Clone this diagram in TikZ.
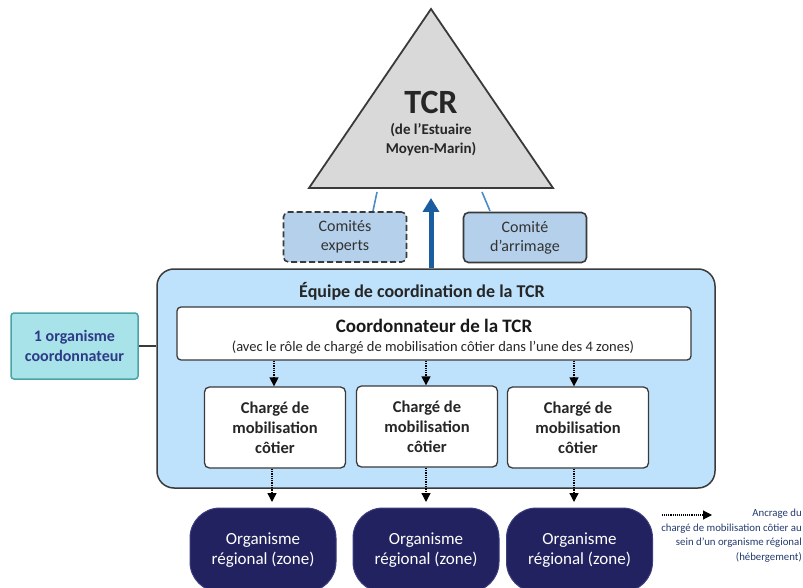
\documentclass[tikz,border=0pt]{standalone}
\usepackage{fontspec}
\setmainfont{Carlito}
\usetikzlibrary{arrows.meta}
\definecolor{trifill}{HTML}{D9D9D9}
\definecolor{darkline}{HTML}{3A3A3A}
\definecolor{comfill}{HTML}{B4D0EA}
\definecolor{teamfill}{HTML}{BEE2FB}
\definecolor{orgfill}{HTML}{222260}
\definecolor{orgline}{HTML}{3C3C7E}
\definecolor{leftfill}{HTML}{A7E3E9}
\definecolor{leftline}{HTML}{4AA3A6}
\definecolor{lefttext}{HTML}{2E3A87}
\definecolor{thinblue}{HTML}{4A8CC8}
\definecolor{bigblue}{HTML}{1B5EA0}
\definecolor{legtext}{HTML}{233A6E}
\tikzset{
  combox/.style={draw=darkline, line width=1.6pt, fill=comfill, rounded corners=5pt,
     minimum width=123pt, minimum height=50pt, align=center, font=\fontsize{16}{19}\selectfont, text=black!80, inner sep=0pt},
  chbox/.style={draw=darkline, line width=1.3pt, fill=white, rounded corners=5pt,
     minimum width=141pt, minimum height=81pt, align=center, font=\bfseries\fontsize{16.5}{20}\selectfont, text=black!85, inner sep=0pt},
  orgbox/.style={draw=orgline, line width=1pt, fill=orgfill, rounded corners=30pt,
     minimum width=146pt, minimum height=84pt, align=center, font=\fontsize{17}{20}\selectfont, text=white, inner sep=0pt},
  dotarrow/.style={densely dotted, line width=1.3pt, -{Triangle[width=9pt,length=9pt]}},
}
\begin{document}
\begin{tikzpicture}[x=1pt,y=-1pt]
\useasboundingbox (0,0) rectangle (803,588);
% triangle
\draw[fill=trifill, draw=darkline, line width=1.8pt, line join=miter] (309,188) -- (431,9) -- (553,188) -- cycle;
\coordinate (tl) at (377,192);
\coordinate (tr) at (482,192);
\coordinate (tip) at (431,198);
\node[font=\bfseries\fontsize{34}{36}\selectfont, text=black!85] (tcr) at (431,102) {TCR};
\node[font=\bfseries\fontsize{15}{19}\selectfont, text=black!85, align=center] (tcrsub) at (431,140) {(de l’Estuaire\\Moyen-Marin)};
% comites
\node[combox, dashed, dash pattern=on 6pt off 3pt] (exp) at (345,237) {Comités\\experts};
\node[combox] (arr) at (525,237.5) {Comité\\d’arrimage};
\draw[thinblue, line width=1.6pt] (tl) -- (373,211);
\draw[thinblue, line width=1.6pt] (tr) -- (490,211);
% team box
\node[draw=darkline, line width=1.5pt, fill=teamfill, rounded corners=17pt, minimum width=558pt, minimum height=219pt, inner sep=0pt] (team) at (436,378.5) {};
\node[font=\bfseries\fontsize{18}{20}\selectfont, text=black!85] (teamt) at (422,291) {Équipe de coordination de la TCR};
\draw[bigblue, line width=5pt, -{Triangle[width=16pt,length=14pt]}] (team.north -| tip) -- (tip);
% coordonnateur
\node[draw=darkline, line width=1.3pt, fill=white, rounded corners=4pt, minimum width=514pt, minimum height=53pt, inner sep=0pt] (coord) at (434,333.5) {};
\node[font=\bfseries\fontsize{19}{21}\selectfont, text=black!90] (coordt) at (434,326) {Coordonnateur de la TCR};
\node[font=\fontsize{14.5}{16}\selectfont, text=black!85] (coords) at (433,347) {(avec le rôle de chargé de mobilisation côtier dans l’une des 4 zones)};
% charges
\node[chbox] (c1) at (275,427.5) {Chargé de\\mobilisation\\côtier};
\node[chbox] (c2) at (427,426.5) {Chargé de\\mobilisation\\côtier};
\node[chbox] (c3) at (578,427.5) {Chargé de\\mobilisation\\côtier};
% organismes
\node[orgbox] (o1) at (263,550) {Organisme\\régional (zone)};
\node[orgbox] (o2) at (426,550) {Organisme\\régional (zone)};
\node[orgbox] (o3) at (579.5,550) {Organisme\\régional (zone)};
% dotted arrows
\draw[dotarrow] (coord.south -| 274,0) -- (c1.north -| 274,0);
\draw[dotarrow] (coord.south -| 426,0) -- (c2.north -| 426,0);
\draw[dotarrow] (coord.south -| 574,0) -- (c3.north -| 574,0);
\draw[dotarrow] (c1.south -| 272,0) -- (272,502);
\draw[dotarrow] (c2.south -| 426,0) -- (426,502);
\draw[dotarrow] (c3.south -| 574,0) -- (574,502);
% left box
\node[draw=leftline, line width=1.5pt, fill=leftfill, rounded corners=3pt, minimum width=127pt, minimum height=66pt, inner sep=0pt, align=center, font=\bfseries\fontsize{16}{20}\selectfont, text=lefttext] (left) at (74.5,346) {1 organisme\\coordonnateur};
\draw[darkline, line width=1.3pt] (left.east) -- (left.east -| team.west);
% legend
\coordinate (lega) at (662,515);
\coordinate (legb) at (712,515);
\draw[densely dotted, line width=1.1pt, -{Triangle[width=9pt,length=9pt]}] (lega) -- (legb);
\node[anchor=north east, align=right, font=\fontsize{10.8}{14.5}\selectfont, text=legtext, inner sep=0pt] (legt) at (802,509) {Ancrage du\\chargé de mobilisation côtier au\\sein d’un organisme régional\\(hébergement)};
\end{tikzpicture}
\end{document}
